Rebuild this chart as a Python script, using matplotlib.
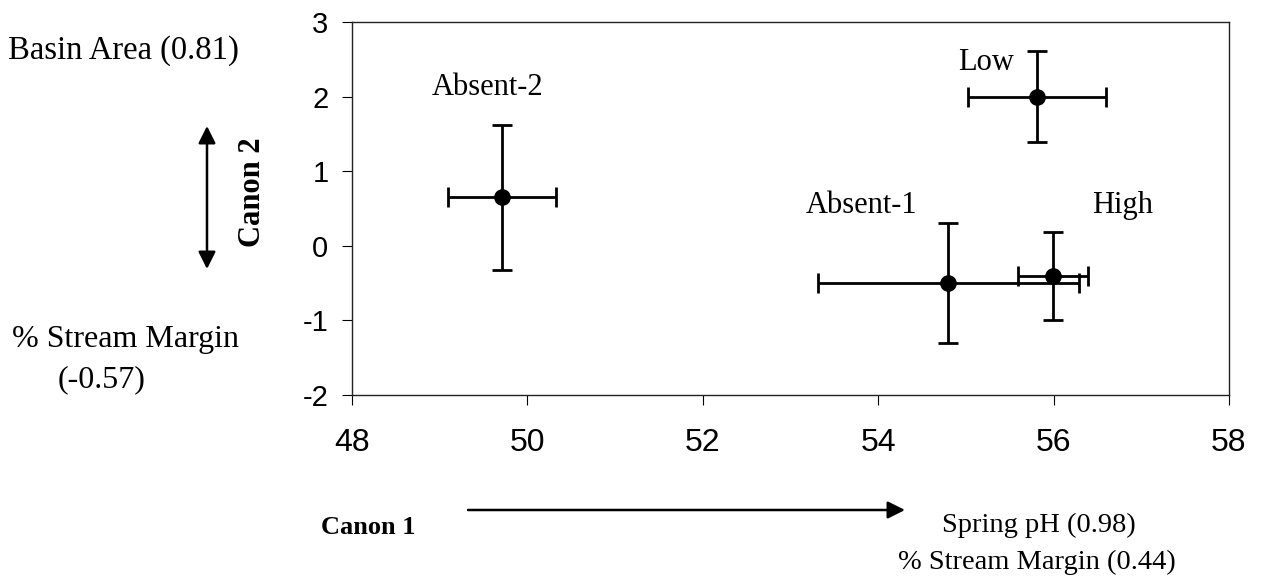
import matplotlib
matplotlib.use("Agg")
import matplotlib.pyplot as plt
from matplotlib.patches import FancyArrowPatch

plt.rcParams["axes.unicode_minus"] = False

# Data
groups = ["Absent-2", "Absent-1", "Low", "High"]
canon1 = [49.71, 54.80, 55.81, 55.99]
canon2 = [0.65, -0.50, 2.00, -0.40]
canon1_err = [0.62, 1.49, 0.79, 0.40]
canon2_err = [0.97, 0.80, 0.61, 0.59]
xticks = [48, 50, 52, 54, 56, 58]
yticks = [-2, -1, 0, 1, 2, 3]

# label anchor positions (data coords)
label_x = [49.55, 53.81, 55.23, 56.79]
label_y = [2.02, 0.44, 2.36, 0.44]

W, H = 1263, 581
fig = plt.figure(figsize=(W / 100, H / 100), dpi=100)
ax = fig.add_axes([352 / W, 1 - 395 / H, (1229 - 352) / W, (395 - 22) / H])

serif = ["Liberation Serif", "DejaVu Serif"]
sans = ["Liberation Sans", "DejaVu Sans"]

ax.errorbar(canon1, canon2, xerr=canon1_err, yerr=canon2_err, fmt="o",
            color="black", ecolor="black", elinewidth=2, capsize=7.5,
            capthick=2, markersize=11, zorder=3)

for g, lx, ly in zip(groups, label_x, label_y):
    ax.text(lx, ly, g, ha="center", va="baseline", fontsize=22,
            family=serif, color="black")

ax.set_xlim(48, 58)
ax.set_ylim(-2, 3)
ax.set_xticks(xticks)
ax.set_yticks(yticks)
ax.tick_params(axis="x", labelsize=23, direction="out", length=7, width=0.8,
               pad=17, colors="black")
ax.tick_params(axis="y", labelsize=21, direction="out", length=7, width=0.8,
               pad=10, colors="black")
for lbl in ax.get_xticklabels() + ax.get_yticklabels():
    lbl.set_family(sans)
for s in ax.spines.values():
    s.set_linewidth(1.0)
    s.set_color("#222222")

def fx(px):
    return px / W

def fy(py):
    return 1 - py / H

fig.text(fx(8), fy(51), "Basin Area (0.81)", ha="left", va="center",
         fontsize=23.5, family=serif)
fig.text(fx(12), fy(339), "% Stream Margin", ha="left", va="center",
         fontsize=23, family=serif)
fig.text(fx(102), fy(380), "(-0.57)", ha="center", va="center",
         fontsize=23, family=serif)
fig.text(fx(252), fy(192), "Canon 2", ha="center", va="center",
         rotation=90, fontsize=22, family=serif, fontweight="bold")
fig.text(fx(368), fy(527), "Canon 1", ha="center", va="center",
         fontsize=19, family=serif, fontweight="bold")
fig.text(fx(942), fy(525), "Spring pH (0.98)", ha="left", va="center",
         fontsize=20.5, family=serif)
fig.text(fx(898), fy(562), "% Stream Margin (0.44)", ha="left", va="center",
         fontsize=20.5, family=serif)

arr2 = FancyArrowPatch((fx(207), fy(126)), (fx(207), fy(269)),
                       transform=fig.transFigure, arrowstyle="<|-|>",
                       mutation_scale=26, color="black", linewidth=1.8,
                       shrinkA=0, shrinkB=0)
fig.patches.append(arr2)
arr1 = FancyArrowPatch((fx(468), fy(510)), (fx(905), fy(510)),
                       transform=fig.transFigure, arrowstyle="-|>",
                       mutation_scale=26, color="black", linewidth=1.8,
                       shrinkA=0, shrinkB=0)
fig.patches.append(arr1)

fig.savefig("out.png", dpi=100, facecolor="white")
